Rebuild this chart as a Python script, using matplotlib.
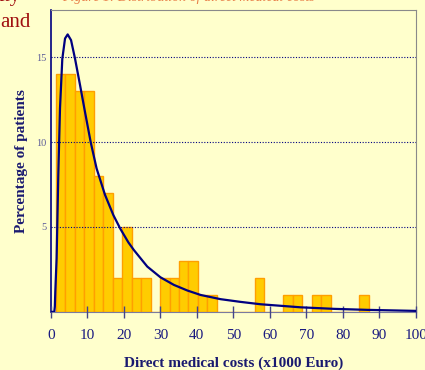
import numpy as np
import matplotlib
matplotlib.use('Agg')
import matplotlib.pyplot as plt

# histogram of direct medical costs, % of patients per bin (x1000 Euro)
bin_start = 1.3
bin_width = 2.6
pct_patients = [14, 14, 13, 13, 8, 7, 2, 5, 2, 2, 0, 2, 2, 3, 3, 1, 1,
                0, 0, 0, 0, 2, 0, 0, 1, 1, 0, 1, 1, 0, 0, 0, 1]

# fitted distribution, points
fit_x = [0, 0.9, 1.05, 1.18, 1.54, 2.0, 2.47, 3.1, 3.85, 4.57, 5.5, 6.6,
         7.97, 9.3, 10.9, 12.5, 14.8, 17.1, 19.0, 21.2, 22.7, 26.4, 30.0,
         33.7, 37.4, 41.0, 46.5, 52.0, 57.5, 68.5, 77.6, 86.8, 100]
fit_y = [0, 0, 0.3, 1.2, 3.16, 8.06, 12.0, 14.9, 16.1, 16.34, 16.0, 14.9,
         13.35, 11.8, 9.98, 8.45, 6.9, 5.7, 4.9, 4.1, 3.65, 2.67, 2.04,
         1.59, 1.26, 1.0, 0.75, 0.59, 0.45, 0.27, 0.18, 0.12, 0.06]

x_ticks = [0, 10, 20, 30, 40, 50, 60, 70, 80, 90, 100]
y_ticks = [5, 10, 15]

plt.rcParams['font.family'] = ['Liberation Serif', 'DejaVu Serif']
bg = '#FFFFCC'

fig = plt.figure(figsize=(4.25, 3.7), dpi=100, facecolor=bg)
ax = fig.add_axes([0.12, 0.157, 0.858, 0.817])
ax.set_facecolor(bg)

lefts = bin_start + bin_width * np.arange(len(pct_patients))
ax.bar(lefts, pct_patients, width=bin_width, align='edge',
       color='#FFCC00', edgecolor='#FF9F00', linewidth=1.0, zorder=2)

ax.plot(fit_x, fit_y, color='#000080', linewidth=1.6, zorder=4)

ax.set_xlim(0, 100)
ax.set_ylim(0, 17.8)
ax.set_xticks(x_ticks)
ax.set_yticks(y_ticks)

ax.set_axisbelow(False)
ax.yaxis.grid(True, linestyle=(0, (1, 1.5)), color='#000080', linewidth=0.8)

for s in ['top', 'right']:
    ax.spines[s].set_color('#8a8a8a')
ax.spines['left'].set_color('#000080')
ax.spines['left'].set_linewidth(1.2)
ax.spines['bottom'].set_color('#7a7aa0')

ax.tick_params(axis='x', direction='inout', length=8, width=1,
               color='#44448a', pad=8, labelsize=11, labelcolor='#1a1a80')
ax.tick_params(axis='y', length=0, pad=3, labelsize=7.5, labelcolor='#5c5c99')

ax.set_xlabel('Direct medical costs (x1000 Euro)', fontsize=11,
              fontweight='bold', color='#1a1a70', labelpad=10.5)
ax.set_ylabel('Percentage of patients', fontsize=11,
              fontweight='bold', color='#1a1a70', labelpad=6)

# cropped slide text around the chart
fig.text(-0.003, 0.996, 'ity', fontsize=15, color='#a01010', va='baseline')
fig.text(0.0, 0.928, 'and', fontsize=15, color='#a01010', va='baseline')
fig.text(0.146, 0.997, 'Figure 1: Distribution of direct medical costs',
         fontsize=10, style='italic', color='#e8804a', va='baseline')

fig.savefig('out.png', dpi=100, facecolor=bg)
